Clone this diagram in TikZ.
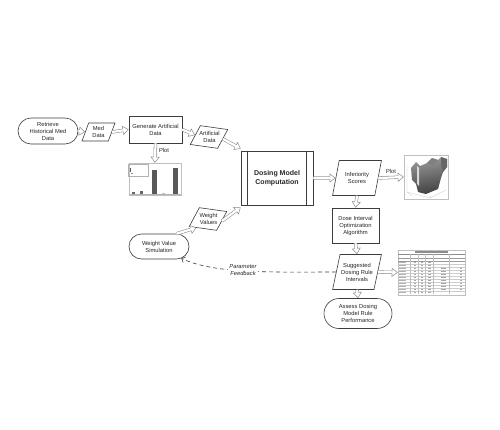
\documentclass[tikz,border=0pt]{standalone}
\usepackage{fontspec}
\setmainfont{Liberation Sans}
\usetikzlibrary{shapes.geometric,shapes.misc,arrows.meta,shadings}
\definecolor{edge}{HTML}{3C3C3C}
\definecolor{arr}{HTML}{8C8C8C}
\begin{document}
\begin{tikzpicture}[x=1pt,y=-1pt,
  every node/.style={font=\fontsize{5.8}{7}\selectfont, align=center, text=black!85, inner sep=1pt},
  boxnode/.style={draw=edge, line width=0.6pt, fill=white, rectangle},
  termnode/.style={draw=edge, line width=0.6pt, fill=white, rounded rectangle},
  paranode/.style={draw=edge, line width=0.6pt, fill=white, trapezium, trapezium left angle=70, trapezium right angle=110, trapezium stretches=true},
  picnode/.style={draw=black!25, line width=0.4pt, fill=white, inner sep=0pt},
  hol/.style={draw=arr, line width=0.5pt, -{Triangle[open, length=6pt, width=9pt, fill=white]},
    preaction={draw=arr, arrows=-, line width=3.3pt, shorten >=5.5pt},
    postaction={draw=white, arrows=-, line width=2.2pt, shorten >=5pt}},
  fb/.style={draw=edge, line width=0.6pt, dash pattern=on 4pt off 3pt, -{Straight Barb[length=3pt, width=6pt]}},
  lbl/.style={font=\fontsize{5.8}{7}\selectfont}
]
\useasboundingbox (0,0) rectangle (500,429);
\fill[white] (0,0) rectangle (500,429);

% nodes
\node[termnode, minimum width=62, minimum height=26] (ret) at (48,131) {Retrieve\\Historical Med\\Data};
\node[paranode, minimum width=33, minimum height=18] (med) at (98.5,132) {Med\\Data};
\node[boxnode, minimum width=53, minimum height=27] (gen) at (155.5,129.5) {Generate Artificial\\Data};
\node[paranode, minimum width=35, minimum height=20, rotate=-8] (art) at (209,137) {};
\node (artT) at (209.5,137) {Artificial\\Data};
\node[boxnode, minimum width=72, minimum height=54, font=\bfseries\fontsize{7}{9}\selectfont] (dm) at (277,178) {Dosing Model\\Computation};
\draw[edge, line width=0.6pt] ([xshift=7pt]dm.north west) -- ([xshift=7pt]dm.south west);
\draw[edge, line width=0.6pt] ([xshift=-7pt]dm.north east) -- ([xshift=-7pt]dm.south east);
\node[paranode, minimum width=35, minimum height=20, rotate=-8] (wv) at (208,219) {};
\node (wvT) at (208.5,219) {Weight\\Values};
\node[termnode, minimum width=62, minimum height=25] (sim) at (159,246.5) {Weight Value\\Simulation};
\node[paranode, minimum width=49, minimum height=35] (inf) at (357,178) {Inferiority\\Scores};
\node[boxnode, minimum width=47, minimum height=35] (doi) at (355.5,225.5) {Dose Interval\\Optimization\\Algorithm};
\node[paranode, minimum width=49, minimum height=35] (sug) at (357,272) {Suggested\\Dosing Rule\\Intervals};
\node[termnode, minimum width=70, minimum height=30] (ass) at (358,313.5) {Assess Dosing\\Model Rule\\Performance};

% picture: bar chart
\node[picnode, minimum width=52, minimum height=32] (chart) at (155,179) {};
\draw[black!30, line width=0.3pt] (128.5,164.5) rectangle (148,176);
\fill[black!65] (129.5,168) rectangle (130.3,172);
\fill[black!45] (131,173) rectangle (133,173.6);
\draw[black!30, line width=0.3pt] (129,194) -- (181,194);
\fill[black!60] (132,192) rectangle (134.5,194);
\fill[black!60] (140,191.3) rectangle (142.5,194);
\fill[black!65] (152,170) rectangle (157,194);
\fill[black!25] (162,193.2) rectangle (164.5,194);
\fill[black!65] (173,168) rectangle (178,194);

% picture: 3D surface
\node[picnode, minimum width=44, minimum height=44] (surf) at (426,177) {};
\draw[black!20, line width=0.3pt] (407,165) -- (407,192) -- (430,198) -- (446,190);
\draw[black!20, line width=0.3pt] (407,192) -- (412,196) (430,198) -- (431,196);
\shade[top color=black!40, bottom color=black!75, shading angle=10]
  (411,168) -- (416,162) -- (420,166) -- (427,163) -- (432,158) -- (438,160) -- (441,157) -- (447,159) -- (447,167) -- (443,172) -- (441,178) -- (438,189) -- (426,194) -- (418,192) -- (416,184) -- (412,180) -- cycle;
\fill[black!15] (417,166) -- (419,168) -- (419,186) -- (417,184) -- cycle;
\fill[black!50] (427,163) -- (432,158) -- (438,160) -- (433,165) -- cycle;
\fill[black!60] (441,157) -- (447,159) -- (447,167) -- (443,172) -- (441,165) -- cycle;

% picture: table
\node[picnode, minimum width=67, minimum height=45] (tbl) at (431.5,272.5) {};
\begin{scope}[line width=0.25pt]
\draw[black!45] (398,254) -- (465,254);
\foreach \yy in {264,267,270,273,276,279,282,285,288,291} \draw[black!20] (398,\yy) -- (465,\yy);
\draw[black!40] (398,258) -- (465,258) (398,261) -- (465,261);
\foreach \xx in {410,418,425,433,449} \draw[black!25] (\xx,254) -- (\xx,294);
\end{scope}
\fill[black!45] (415,251.4) rectangle (448,252.5);
\foreach \yy in {263,266,269,272,275,278,281,284,287,290,293}{
  \fill[black!30] (399,\yy-1.1) rectangle (406,\yy-0.5);
  \fill[black!35] (414,\yy-1.1) rectangle (416,\yy-0.5);
  \fill[black!35] (421,\yy-1.1) rectangle (423,\yy-0.5);
  \fill[black!35] (428,\yy-1.1) rectangle (431,\yy-0.5);
}
\foreach \yy in {269,272,275,278,281,284,287,290}{
  \fill[black!35] (441,\yy-1.1) rectangle (446,\yy-0.5);
  \fill[black!35] (460,\yy-1.1) rectangle (462,\yy-0.5);
}

% hollow connectors
\draw[hol] (ret.east) -- (med.west);
\draw[hol] (med.east) -- (gen.west);
\draw[hol] (gen.east) -- (art.west);
\draw[hol] (art.east) -- ([yshift=2pt]dm.north west);
\draw[hol] (gen.south) -- (chart.north);
\node[lbl] (plotA) at (164,150.5) {Plot};
\draw[hol] (sim.north east) -- (wv.south west);
\draw[hol] (wv.east) -- ([yshift=-2pt]dm.south west);
\draw[hol] (dm.east) -- (inf.west);
\draw[hol] (inf.east) -- (surf.west);
\node[lbl] (plotB) at (391,171) {Plot};
\draw[hol] (inf.south) -- (doi.north);
\draw[hol] (doi.south) -- (sug.north);
\draw[hol] (sug.east) -- (tbl.west);
\draw[hol] (sug.south) -- (ass.north);

% feedback
\draw[fb] (sug.west) .. controls (270,272) and (215,274) .. (sim.-28);
\node[lbl, fill=white, font=\itshape\fontsize{5.8}{6.5}\selectfont, inner sep=1.5pt] (pf) at (243,270) {Parameter\\Feedback};
\end{tikzpicture}
\end{document}
